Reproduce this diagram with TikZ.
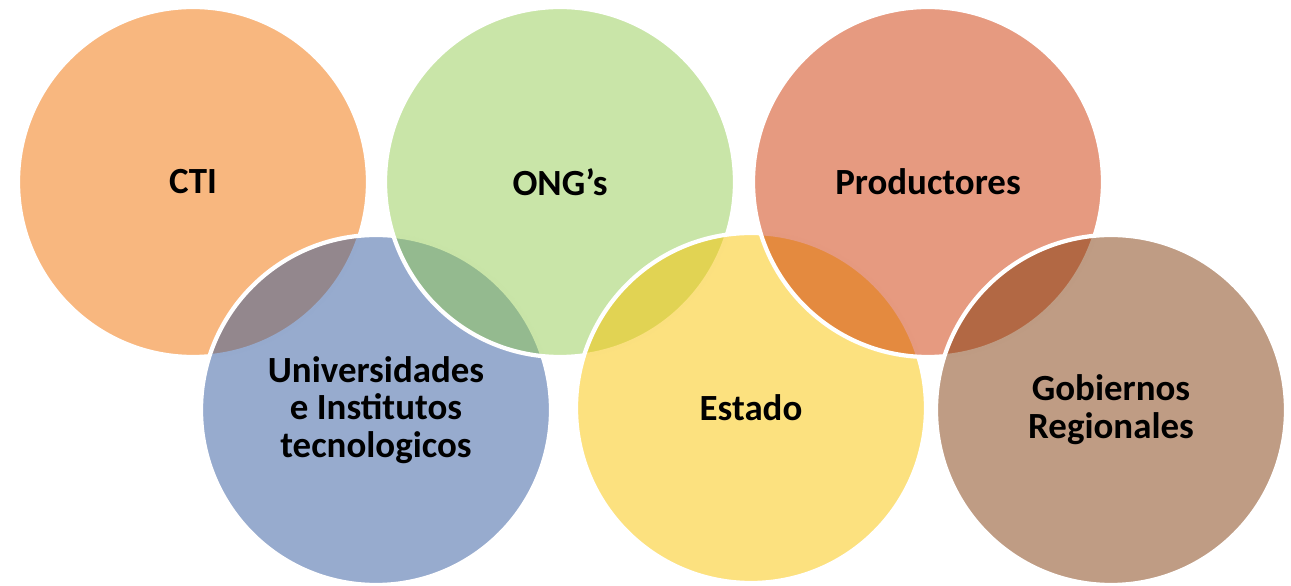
\documentclass[tikz,border=0pt]{standalone}
\usepackage{fontspec}
\setmainfont{Carlito}
\usetikzlibrary{calc}

\definecolor{ctiorange}{RGB}{241,111,0}
\definecolor{onggreen}{RGB}{147,203,81}
\definecolor{prodred}{RGB}{205,53,1}
\definecolor{univblue}{RGB}{47,87,157}
\definecolor{estyellow}{RGB}{249,195,0}
\definecolor{gobbrown}{RGB}{127,57,9}

\tikzset{
  actor/.style={circle, draw=white, line width=2.4pt, minimum size=7cm, inner sep=0pt,
    fill opacity=0.5, text opacity=1, align=center, font=\bfseries\fontsize{21}{21.5}\selectfont}
}

\begin{document}
\begin{tikzpicture}
\useasboundingbox (0,0) rectangle (25.82,11.72);
% circles, drawn in stacking order
\node[actor, fill=ctiorange] (cti) at (3.86,8.08) {CTI};
\node[actor, fill=univblue] (univ) at (7.52,3.52) {Universidades\\e Institutos\\tecnologicos};
\node[actor, fill=onggreen] (ong) at (11.2,8.08) {ONG’s};
\node[actor, fill=estyellow] (estado) at (15.02,3.56) {Estado};
\node[actor, fill=prodred] (prod) at (18.56,8.08) {Productores};
\node[actor, fill=gobbrown] (gob) at (22.22,3.52) {Gobiernos\\Regionales};
\end{tikzpicture}
\end{document}
